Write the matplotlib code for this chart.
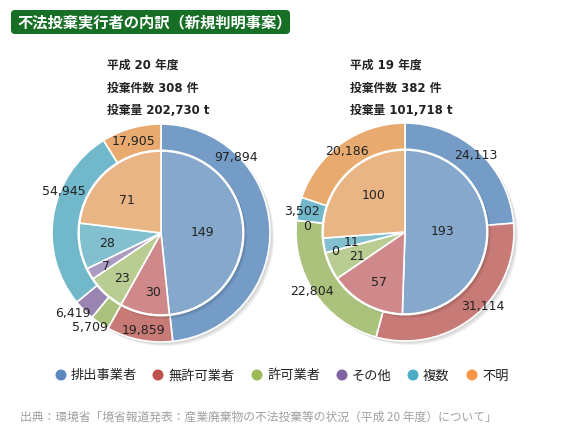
import matplotlib.pyplot as plt
from matplotlib.patches import FancyBboxPatch, Circle

plt.rcParams['font.family'] = ['Noto Sans CJK JP', 'DejaVu Sans']

# data
categories = ["排出事業者", "無許可業者", "許可業者", "その他", "複数", "不明"]
h20_cases = [149, 30, 23, 7, 28, 71]
h20_tons = [97894, 19859, 5709, 6419, 54945, 17905]
h19_cases = [193, 57, 21, 0, 11, 100]
h19_tons = [24113, 31114, 22804, 0, 3502, 20186]
h20_header = ["平成 20 年度", "投棄件数 308 件", "投棄量 202,730 t"]
h19_header = ["平成 19 年度", "投棄件数 382 件", "投棄量 101,718 t"]

# colours
legend_colors = ["#5a87bf", "#c0504d", "#9bbb59", "#8064a2", "#4bacc6", "#f79646"]
outer_colors = ["#749cc7", "#c87a76", "#aac27c", "#9a84b2", "#72b8cb", "#e8aa6e"]
inner_colors = ["#86a8cd", "#d0898a", "#b9cd93", "#ab9bc2", "#82c0d0", "#eab585"]

W, H = 566, 435
fig = plt.figure(figsize=(W / 100, H / 100), dpi=100)
ax = fig.add_axes([0, 0, 1, 1])


def py(y):
    # pixel row -> plot y
    return H - y


# label positions in pixels (layout only)
h20_tons_pos = [(236, 158), (143, 331), (90, 328), (73, 314), (64, 192), (134, 142)]
h20_cases_pos = [(202, 233), (153, 293), (122, 279), (106, 266), (107, 244), (127, 201)]
h19_tons_pos = [(476, 156), (483, 307), (312, 292), (307, 227), (302, 212), (347, 152)]
h19_cases_pos = [(442, 232), (379, 282), (357, 256), (335, 252), (352, 243), (374, 196)]


def draw_donut(cx, cy, tons, cases, tons_pos, cases_pos):
    c = (cx, py(cy))
    # soft shadows
    for i, a in enumerate([0.05, 0.05, 0.06]):
        ax.add_patch(Circle((cx + 2 + i, py(cy) - 2 - i), 109, color="black",
                            alpha=a, lw=0, zorder=0))
    ax.pie(tons, colors=outer_colors, startangle=90, counterclock=False,
           center=c, radius=109,
           wedgeprops=dict(edgecolor="white", linewidth=1.2))
    for i, a in enumerate([0.06, 0.06, 0.06]):
        ax.add_patch(Circle((cx + 1 + i, py(cy) - 1 - i), 83, color="black",
                            alpha=a, lw=0, zorder=2))
    wedges, _ = ax.pie(cases, colors=inner_colors, startangle=90, counterclock=False,
                       center=c, radius=82,
                       wedgeprops=dict(edgecolor="white", linewidth=1.2))
    for w in wedges:
        w.set_zorder(3)
    ax.add_patch(Circle(c, 82.5, fill=False, edgecolor="white", lw=1.5, zorder=4))
    for v, (x, y) in zip(tons, tons_pos):
        ax.text(x, py(y), f"{v:,}", ha="center", va="center", fontsize=9,
                family="DejaVu Sans", color="#222222", zorder=6)
    for v, (x, y) in zip(cases, cases_pos):
        ax.text(x, py(y), f"{v:,}", ha="center", va="center", fontsize=9,
                family="DejaVu Sans", color="#222222", zorder=6)


draw_donut(161, 234, h20_tons, h20_cases, h20_tons_pos, h20_cases_pos)
draw_donut(405, 233, h19_tons, h19_cases, h19_tons_pos, h19_cases_pos)

# title box
ax.add_patch(FancyBboxPatch((11, py(35)), 279, 24,
                            boxstyle="round,pad=0,rounding_size=4",
                            facecolor="#166f25", edgecolor="none", zorder=5))
ax.text(17, py(22.5), "不法投棄実行者の内訳（新規判明事案）", ha="left", va="center",
        fontsize=11, color="white", fontweight="bold", zorder=6)

# headers
head_font = ["DejaVu Sans", "Noto Sans CJK JP"]
for i, (a, b) in enumerate(zip(h20_header, h19_header)):
    y = py(65 + i * 23)
    ax.text(107, y, a, ha="left", va="center", fontsize=8.5, fontweight="bold",
            family=head_font, color="#222222")
    ax.text(350, y, b, ha="left", va="center", fontsize=8.5, fontweight="bold",
            family=head_font, color="#222222")

# legend
legend_x = [61, 158, 257, 342, 413, 472]
for x, col, name in zip(legend_x, legend_colors, categories):
    ax.add_patch(Circle((x, py(376)), 5.5, color=col, lw=0))
    ax.text(x + 10, py(376), name, ha="left", va="center", fontsize=9.5, color="#222222")

ax.text(20, py(417), "出典：環境省「境省報道発表：産業廃棄物の不法投棄等の状況（平成 20 年度）について」",
        ha="left", va="center", fontsize=8.5, color="#a0a0a0")

ax.set_xlim(0, W)
ax.set_ylim(0, H)
ax.set_aspect("equal")
ax.axis("off")
fig.savefig("out.png", dpi=100)
